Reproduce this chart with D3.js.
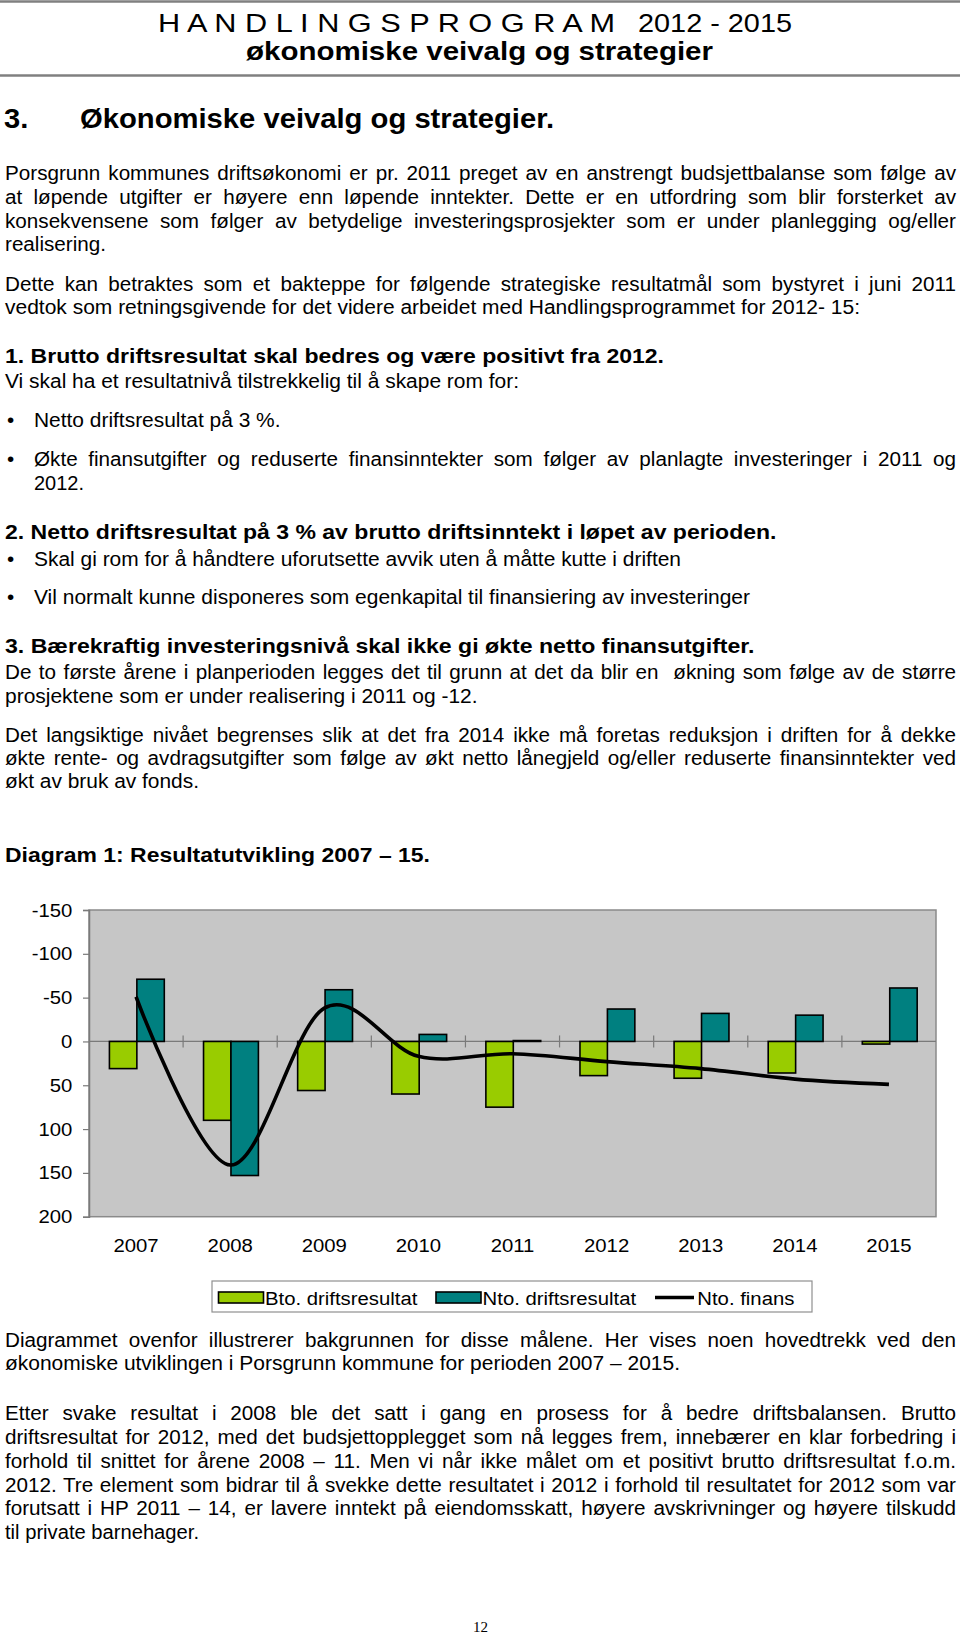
<!DOCTYPE html>
<html><head><meta charset="utf-8">
<script src="https://cdn.jsdelivr.net/npm/d3@7"></script>
<style>
html,body{margin:0;padding:0;background:#fff;}
svg text{font-family:"Liberation Sans",Arial,sans-serif;fill:#000;white-space:pre;}
</style></head>
<body>
<svg id="page" width="960" height="1634"></svg>
<script>
// ---------- chart data ----------
const years = ["2007","2008","2009","2010","2011","2012","2013","2014","2015"];
const btoDrift = [31, 90, 56, 60, 75, 39, 42, 36, 3];        // Bto. driftsresultat
const ntoDrift = [-71, 153, -59, -8, -1, -37, -32, -30, -61];  // Nto. driftsresultat
const ntoFinans = [-51, 141, -38, 17, 14, 23, 31, 43, 49];     // Nto. finans
const yTicks = [-150, -100, -50, 0, 50, 100, 150, 200];
const seriesNames = ["Bto. driftsresultat", "Nto. driftsresultat", "Nto. finans"];
const seriesColors = ["#99cc00", "#008080", "#000000"];

const SX = 1.06;
const svg = d3.select("#page");
const FONT_BODY = 19.5;

function tline(t) {
  const g = svg.append("text")
    .attr("transform", `translate(${t.x},${t.y}) scale(${t.sx || SX},1)`)
    .style("font-size", (t.size || FONT_BODY) + "px")
    .style("font-weight", t.bold ? "bold" : "normal")
    .text(t.text);
  if (t.family) g.style("font-family", t.family);
  if (t.anchor) g.attr("text-anchor", t.anchor);
  const sx = t.sx || SX;
  if (t.justify) {
    const w = g.node().getComputedTextLength();
    const n = (t.text.match(/ /g) || []).length;
    const target = (956 - t.x) / sx;
    if (n > 0) g.attr("word-spacing", (target - w) / n);
  } else if (t.x1) {
    g.attr("textLength", (t.x1 - t.x) / sx).attr("lengthAdjust", "spacingAndGlyphs");
  }
  return g;
}
function bullet(y) {
  tline({text: "\u2022", x: 7, y: y});
}

// ---------- header ----------
svg.append("line").attr("x1",0).attr("x2",960).attr("y1",1.5).attr("y2",1.5).attr("stroke","#808080").attr("stroke-width",2.5);
svg.append("line").attr("x1",0).attr("x2",960).attr("y1",75.5).attr("y2",75.5).attr("stroke","#808080").attr("stroke-width",2.5);
tline({text:"H A N D L I N G S P R O G R A M", x:158, x1:615, y:31.7, size:25});
tline({text:"2012 - 2015", x:638, x1:792, y:31.7, size:25});
tline({text:"økonomiske veivalg og strategier", x:246, x1:713, y:59.5, size:25, bold:true});
tline({text:"3.", x:4, y:128.3, size:28, bold:true, sx:1.04});
tline({text:"Økonomiske veivalg og strategier.", x:80, x1:554, y:128.3, size:28, bold:true});

// ---------- body text above chart ----------
const bodyTop = [
  {text:"Porsgrunn kommunes driftsøkonomi er pr. 2011 preget av en anstrengt budsjettbalanse som følge av", x:5, y:179.5, justify:true},
  {text:"at løpende utgifter er høyere enn løpende inntekter. Dette er en utfordring som blir forsterket av", x:5, y:203.5, justify:true},
  {text:"konsekvensene som følger av betydelige investeringsprosjekter som er under planlegging og/eller", x:5, y:227.5, justify:true},
  {text:"realisering.", x:5, x1:106, y:251.3},
  {text:"Dette kan betraktes som et bakteppe for følgende strategiske resultatmål som bystyret i juni 2011", x:5, y:290.7, justify:true},
  {text:"vedtok som retningsgivende for det videre arbeidet med Handlingsprogrammet for 2012- 15:", x:5, x1:860, y:314.3},
  {text:"1. Brutto driftsresultat skal bedres og være positivt fra 2012.", x:5, x1:664, y:362.7, size:20.5, bold:true},
  {text:"Vi skal ha et resultatnivå tilstrekkelig til å skape rom for:", x:5, x1:519, y:388.3},
  {text:"Netto driftsresultat på 3 %.", x:34, x1:280.5, y:427.3, bullet:true},
  {text:"Økte finansutgifter og reduserte finansinntekter som følger av planlagte investeringer i 2011 og", x:34, y:466, justify:true, bullet:true},
  {text:"2012.", x:34, x1:84, y:489.5},
  {text:"2. Netto driftsresultat på 3 % av brutto driftsinntekt i løpet av perioden.", x:5, x1:776.5, y:539.3, size:20.5, bold:true},
  {text:"Skal gi rom for å håndtere uforutsette avvik uten å måtte kutte i driften", x:34, x1:681, y:566, bullet:true},
  {text:"Vil normalt kunne disponeres som egenkapital til finansiering av investeringer", x:34, x1:750, y:604, bullet:true},
  {text:"3. Bærekraftig investeringsnivå skal ikke gi økte netto finansutgifter.", x:5, x1:754.5, y:653.3, size:20.5, bold:true},
  {text:"De to første årene i planperioden legges det til grunn at det da blir en  økning som følge av de større", x:5, y:679.3, justify:true},
  {text:"prosjektene som er under realisering i 2011 og -12.", x:5, x1:477.6, y:703.3},
  {text:"Det langsiktige nivået begrenses slik at det fra 2014 ikke må foretas reduksjon i driften for å dekke", x:5, y:741.7, justify:true},
  {text:"økte rente- og avdragsutgifter som følge av økt netto lånegjeld og/eller reduserte finansinntekter ved", x:5, y:765, justify:true},
  {text:"økt av bruk av fonds.", x:5, x1:199, y:788.3},
  {text:"Diagram 1: Resultatutvikling 2007 – 15.", x:5, x1:430, y:861.7, size:21, bold:true}
];
bodyTop.forEach(t => { tline(t); if (t.bullet) bullet(t.y); });

// ---------- chart ----------
const plot = {left:89, right:936, top:910, bottom:1216.7};
const y = d3.scaleLinear().domain([-150, 200]).range([plot.top, plot.bottom]);
const x0 = d3.scaleBand().domain(years).range([plot.left, plot.right]).padding(0);
const bw = x0.bandwidth();
const x1 = d3.scaleBand().domain([0,1]).range([bw*0.217, bw*0.80]).padding(0);

const chart = svg.append("g");
chart.append("rect").attr("x", plot.left).attr("y", plot.top)
  .attr("width", plot.right - plot.left).attr("height", plot.bottom - plot.top)
  .attr("fill", "#c6c6c6").attr("stroke", "#8a8a8a").attr("stroke-width", 1.5);

// y axis
const yAxis = chart.append("g").attr("transform", `translate(${plot.left},0)`)
  .call(d3.axisLeft(y).tickValues(yTicks).tickSize(6).tickPadding(10).tickFormat(d => String(d)));
yAxis.select(".domain").attr("stroke", "#7a7a7a").attr("stroke-width", 1.5);
yAxis.selectAll(".tick line").attr("stroke", "#7a7a7a").attr("stroke-width", 1.2);
yAxis.selectAll(".tick text").style("font-size", "19px").style("font-family", '"Liberation Sans",Arial,sans-serif')
  .attr("fill", "#000").attr("x", -15.5).attr("transform", "scale(1.07,1)");

// zero line and category ticks
chart.append("line").attr("x1", plot.left).attr("x2", plot.right).attr("y1", y(0)).attr("y2", y(0))
  .attr("stroke", "#7a7a7a").attr("stroke-width", 1.2);
chart.append("g").selectAll("line").data(years.slice(1)).join("line")
  .attr("x1", d => x0(d)).attr("x2", d => x0(d))
  .attr("y1", y(0) - 6).attr("y2", y(0) + 6)
  .attr("stroke", "#7a7a7a").attr("stroke-width", 1.2);

// bars
const barData = [];
years.forEach((yr, i) => {
  barData.push({yr, s: 0, v: btoDrift[i]});
  barData.push({yr, s: 1, v: ntoDrift[i]});
});
chart.append("g").selectAll("rect").data(barData).join("rect")
  .attr("x", d => x0(d.yr) + x1(d.s))
  .attr("width", x1.bandwidth())
  .attr("y", d => Math.min(y(0), y(d.v)))
  .attr("height", d => Math.abs(y(d.v) - y(0)))
  .attr("fill", d => seriesColors[d.s])
  .attr("stroke", "#000").attr("stroke-width", 1.6);

// smoothed line
const lineGen = d3.line()
  .x((d, i) => x0(years[i]) + bw / 2)
  .y(d => y(d))
  .curve(d3.curveCatmullRom.alpha(0));
chart.append("path").datum(ntoFinans).attr("d", lineGen)
  .attr("fill", "none").attr("stroke", "#000").attr("stroke-width", 3.6)
  .attr("stroke-linejoin", "round");

// x axis labels
const xAxis = chart.append("g").attr("transform", `translate(0,${plot.bottom})`)
  .call(d3.axisBottom(x0).tickSize(0).tickPadding(22));
xAxis.select(".domain").remove();
xAxis.selectAll(".tick text").style("font-size", "19px").style("font-family", '"Liberation Sans",Arial,sans-serif')
  .attr("fill", "#000").attr("transform", "scale(1.07,1)");

// legend
const lg = svg.append("g");
lg.append("rect").attr("x", 212).attr("y", 1281).attr("width", 600).attr("height", 31)
  .attr("fill", "#fff").attr("stroke", "#909090").attr("stroke-width", 1.2);
const legendItems = [
  {name: seriesNames[0], color: seriesColors[0], type: "rect", sx: 218.5, tx: 265},
  {name: seriesNames[1], color: seriesColors[1], type: "rect", sx: 436, tx: 482.6},
  {name: seriesNames[2], color: seriesColors[2], type: "line", sx: 655, tx: 697.3}
];
legendItems.forEach(it => {
  if (it.type === "rect") {
    lg.append("rect").attr("x", it.sx).attr("y", 1292).attr("width", 45).attr("height", 11)
      .attr("fill", it.color).attr("stroke", "#000").attr("stroke-width", 1.6);
  } else {
    lg.append("line").attr("x1", it.sx).attr("x2", it.sx + 39).attr("y1", 1297.5).attr("y2", 1297.5)
      .attr("stroke", it.color).attr("stroke-width", 3.6);
  }
  tline({text: it.name, x: it.tx, y: 1305, size: 19, sx: 1.07});
});

// ---------- body text below chart ----------
const bodyBottom = [
  {text:"Diagrammet ovenfor illustrerer bakgrunnen for disse målene. Her vises noen hovedtrekk ved den", x:5, y:1346.7, justify:true},
  {text:"økonomiske utviklingen i Porsgrunn kommune for perioden 2007 – 2015.", x:5, x1:680, y:1370},
  {text:"Etter svake resultat i 2008 ble det satt i gang en prosess for å bedre driftsbalansen. Brutto", x:5, y:1420, justify:true},
  {text:"driftsresultat for 2012, med det budsjettopplegget som nå legges frem, innebærer en klar forbedring i", x:5, y:1444, justify:true},
  {text:"forhold til snittet for årene 2008 – 11. Men vi når ikke målet om et positivt brutto driftsresultat f.o.m.", x:5, y:1467.7, justify:true},
  {text:"2012. Tre element som bidrar til å svekke dette resultatet i 2012 i forhold til resultatet for 2012 som var", x:5, y:1491.7, justify:true},
  {text:"forutsatt i HP 2011 – 14, er lavere inntekt på eiendomsskatt, høyere avskrivninger og høyere tilskudd", x:5, y:1515, justify:true},
  {text:"til private barnehager.", x:5, x1:199, y:1538.5}
];
bodyBottom.forEach(t => tline(t));

// page number
tline({text:"12", x:480.5, y:1632, size:15, sx:1.0, anchor:"middle", family:'"Liberation Serif","Times New Roman",serif'});
</script>
</body></html>
